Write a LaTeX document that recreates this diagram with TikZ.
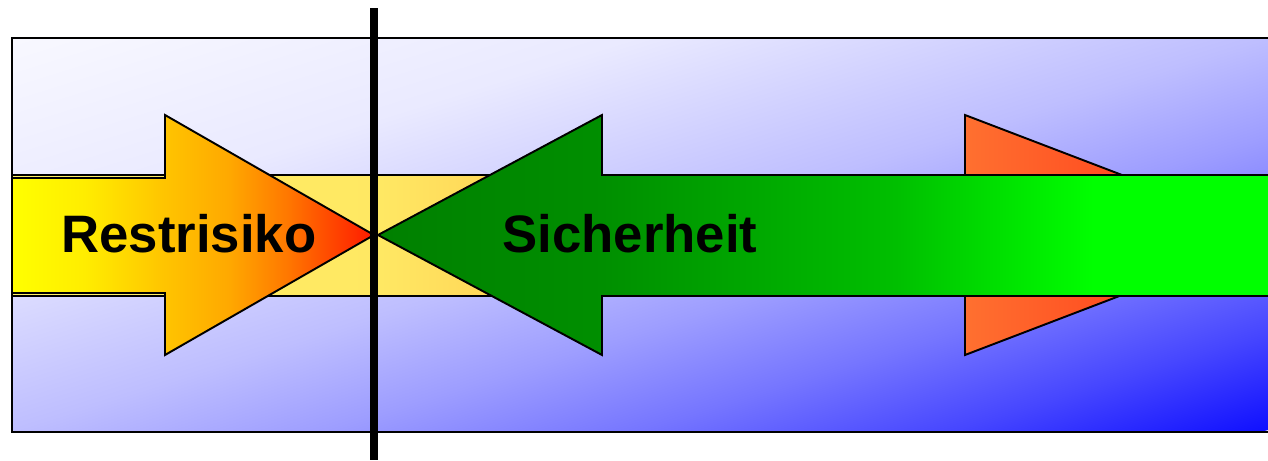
\documentclass[tikz,border=0pt]{standalone}
\usepackage{fontspec}
\setmainfont{Liberation Sans}
\usetikzlibrary{shadings}

\definecolor{redl}{RGB}{255,112,48}
\definecolor{redr}{RGB}{255,40,16}

\pgfdeclarehorizontalshading{bgshade}{100bp}{rgb(0bp)=(0.973,0.973,1); rgb(25bp)=(0.973,0.973,1); rgb(37.5bp)=(0.916,0.916,1); rgb(50bp)=(0.745,0.745,1); rgb(56.25bp)=(0.617,0.617,1); rgb(62.5bp)=(0.461,0.461,1); rgb(68.75bp)=(0.276,0.276,1); rgb(75bp)=(0.063,0.063,1); rgb(100bp)=(0.063,0.063,1)}
\pgfdeclarehorizontalshading{bandshade}{100bp}{rgb(0bp)=(1,0.94,0.39); rgb(25bp)=(1,0.94,0.39); rgb(51.7bp)=(1,0.91,0.39); rgb(59bp)=(1,0.85,0.35); rgb(75bp)=(1,0.78,0.31); rgb(100bp)=(1,0.78,0.31)}
\pgfdeclarehorizontalshading{restshade}{100bp}{rgb(0bp)=(1,1,0); rgb(25bp)=(1,1,0); rgb(35bp)=(1,0.93,0); rgb(46bp)=(1,0.77,0); rgb(55bp)=(1,0.66,0); rgb(63bp)=(1,0.47,0); rgb(70bp)=(1,0.25,0); rgb(75bp)=(1,0.1,0); rgb(100bp)=(1,0.1,0)}
\pgfdeclarehorizontalshading{safeshade}{100bp}{rgb(0bp)=(0,0.5,0); rgb(25bp)=(0,0.5,0); rgb(37.5bp)=(0,0.56,0); rgb(54bp)=(0,0.75,0); rgb(65bp)=(0,1,0); rgb(100bp)=(0,1,0)}

\begin{document}
\begin{tikzpicture}[x=0.02cm, y=-0.02cm]
    \tikzstyle{outl}=[draw=black, line width=1.1pt]
    \tikzstyle{lbl}=[font=\fontsize{30}{36}\selectfont\bfseries, anchor=base, inner sep=0pt]

    \useasboundingbox (0, 0) rectangle (1268, 460);

    % background, shaded along the diagonal
    \begin{scope}
        \clip (12, 38) rectangle (1272, 432);
        \begin{scope}[transform canvas={cm={3.5715,-1.1168,3.5715,1.1168,(6.803pt,-21.54pt)}}]
            \shade[shading=bgshade] (0pt, -100pt) rectangle (200pt, 100pt);
        \end{scope}
    \end{scope}
    \draw[outl] (12, 38) rectangle (1272, 432);

    \begin{scope}
        \shade[outl, shading=bandshade] (12, 175) rectangle (700, 296);

        % arrow heads behind
        \shade[outl, left color=redl, right color=redr] (965, 115) -- (1279, 235) -- (965, 355) -- cycle;

        \shade[outl, shading=restshade] (12, 178) -- (165, 178) -- (165, 115) -- (374, 235)
            -- (165, 355) -- (165, 293) -- (12, 293) -- cycle;
        \shade[outl, shading=safeshade] (1272, 175) -- (602, 175) -- (602, 115) -- (378, 235)
            -- (602, 355) -- (602, 296) -- (1272, 296) -- cycle;

        \draw[line width=4pt] (374, 8) -- (374, 460);
    \end{scope}

    \node[lbl] (rest) at (189, 252) {Restrisiko};
    \node[lbl] (safe) at (630, 252) {Sicherheit};

\end{tikzpicture}
\end{document}
